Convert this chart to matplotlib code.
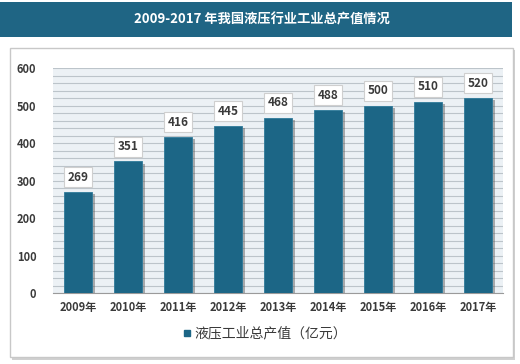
import numpy as np
import matplotlib
matplotlib.use('Agg')
from matplotlib import pyplot as plt
from matplotlib.patches import Rectangle
from matplotlib.lines import Line2D
import matplotlib.patheffects as pe

plt.rcParams['font.family'] = ['Noto Sans CJK SC', 'DejaVu Sans']

years = ['2009年', '2010年', '2011年', '2012年', '2013年', '2014年', '2015年', '2016年', '2017年']
values = [269, 351, 416, 445, 468, 488, 500, 510, 520]
title = '2009-2017 年我国液压行业工业总产值情况'
legend_label = '液压工业总产值（亿元）'

bar_color = '#1c6686'
text_color = '#3a3a3a'

fig = plt.figure(figsize=(5.2, 3.64), dpi=100)
fig.patch.set_facecolor('white')

# title banner
fig.patches.append(Rectangle((0, 0.898), 0.985, 0.097, transform=fig.transFigure,
                             facecolor='#1f6584', edgecolor='none', zorder=-2))
fig.text(0.503, 0.946, title, color='white', fontsize=9.5, fontweight='bold',
         ha='center', va='center')

# card with shadow
fig.patches.append(Rectangle((0.024, 0.012), 0.966, 0.852, transform=fig.transFigure,
                             facecolor='#d0d0d0', edgecolor='none', zorder=-2))
fig.patches.append(Rectangle((0.02, 0.019), 0.966, 0.848, transform=fig.transFigure,
                             facecolor='white', edgecolor='#c8c8c8', linewidth=1, zorder=-1))

ax = fig.add_axes([0.102, 0.195, 0.865, 0.618])
ax.set_facecolor('#ecf1f5')
x = np.arange(len(years))
bars = ax.bar(x, values, width=0.55, color=bar_color, zorder=3,
              edgecolor='#2f7a9a', linewidth=0.6)
for b in bars:
    b.set_path_effects([pe.SimplePatchShadow(offset=(2.5, -1.5), shadow_rgbFace='#555555', alpha=0.45),
                        pe.Normal()])

for xi, v in zip(x, values):
    ax.annotate(str(v), (xi, v), xytext=(0, 6), textcoords='offset points',
                ha='center', va='bottom', fontsize=8.5, color=text_color, fontweight='bold',
                bbox=dict(boxstyle='square,pad=0.3', facecolor='white', edgecolor='#cfcfcf', linewidth=0.8),
                zorder=5)

ax.set_xlim(-0.5, len(years) - 0.5)
ax.set_ylim(0, 600)
ax.set_yticks(np.arange(0, 601, 100))
ax.set_yticks(np.arange(0, 601, 20), minor=True)
ax.grid(axis='y', which='both', color='#bcc4ca', linewidth=0.8, zorder=1)
ax.set_axisbelow(True)
ax.set_xticks(x)
ax.set_xticklabels(years)
ax.tick_params(axis='both', which='both', length=0, labelsize=8, colors=text_color)
ax.tick_params(axis='y', pad=12)
ax.tick_params(axis='x', pad=6)
for lbl in ax.get_xticklabels() + ax.get_yticklabels():
    lbl.set_fontweight('bold')
for s in ['top', 'right', 'left']:
    ax.spines[s].set_visible(False)
ax.spines['bottom'].set_color('#9a9a9a')

handle = Line2D([], [], marker='s', linestyle='none', color=bar_color, markersize=4.5)
fig.legend([handle], [legend_label], loc='center', bbox_to_anchor=(0.51, 0.083), frameon=False,
           fontsize=10, handlelength=0.6, handletextpad=0.2, labelcolor=text_color)

fig.savefig('out.png', dpi=100)
